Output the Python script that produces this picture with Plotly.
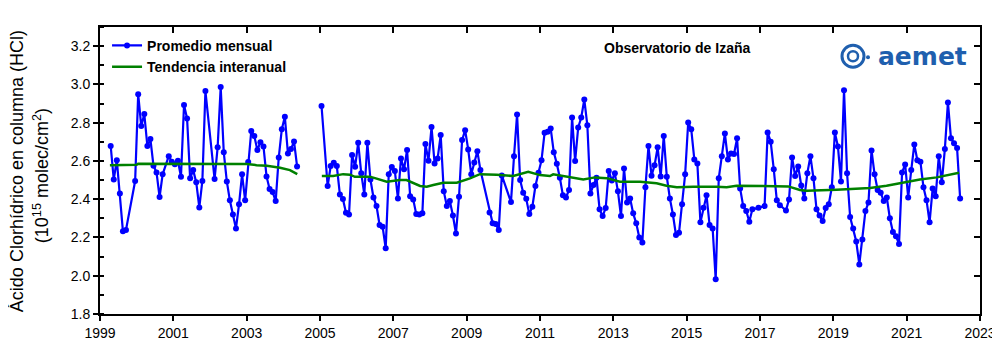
import plotly.graph_objects as go

# ---------------- data ----------------
# Monthly mean HCl total column (10^15 molec/cm2), Izaña
seg1_start = (1999, 4)
seg1_values = [2.678, 2.503, 2.604, 2.430, 2.233, 2.239, None, None, 2.495, 2.949,
               2.782, 2.845, 2.678, 2.714, 2.575, 2.540, 2.411, 2.530, None, 2.625,
               2.596, 2.583, 2.601, 2.517, 2.892, 2.822, 2.509, 2.552, 2.488, 2.357,
               2.495, 2.965, None, None, 2.505, 2.671, 2.986, 2.646, 2.493, 2.394,
               2.320, 2.247, 2.373, 2.530, 2.394, 2.594, 2.756, 2.730, 2.657, 2.698,
               2.676, 2.519, 2.453, 2.437, 2.390, 2.618, 2.766, 2.831, 2.639, 2.662,
               2.702, 2.571]

seg2_start = (2005, 1)
seg2_values = [
    2.887, None, 2.469, 2.573, 2.590, 2.573, 2.425, 2.401, 2.329, 2.320, 2.631, 2.570,
    2.695, 2.535, 2.425, 2.695, 2.503, 2.409, 2.364, 2.265, 2.256, 2.143, 2.531, 2.568,
    2.547, 2.404, 2.613, 2.556, 2.657, 2.416, 2.399, 2.322, 2.320, 2.326, 2.688, 2.601,
    2.777, 2.587, 2.613, 2.735, 2.442, 2.364, 2.390, 2.315, 2.221, 2.413, 2.709, 2.761,
    2.660, 2.530, 2.592, 2.651, 2.552, None, None, 2.331, 2.274, 2.270, 2.239, 2.524,
    None, None, 2.385, 2.625, 2.843, 2.500, 2.434, 2.402, 2.322, 2.361, 2.469, 2.538,
    2.604, 2.747, 2.752, 2.770, 2.646, 2.585, 2.512, 2.420, 2.409, 2.448, 2.827, 2.599,
    2.775, 2.827, 2.921, 2.786, 2.430, 2.474, 2.512, 2.347, 2.312, 2.354, 2.547, 2.498,
    2.535, 2.441, 2.312, 2.561, 2.383, 2.404, 2.326, 2.274, 2.200, 2.174, 2.462, 2.678,
    2.523, 2.578, 2.671, 2.519, 2.730, 2.517, 2.404, 2.320, 2.213, 2.225, 2.374, 2.530,
    2.801, 2.765, 2.608, 2.587, 2.279, 2.355, 2.420, 2.265, 2.247, 1.981, 2.509, 2.625,
    2.744, 2.608, 2.639, 2.636, 2.718, 2.456, 2.364, 2.338, 2.282, 2.347, None, 2.355,
    None, 2.364, 2.749, 2.700, 2.557, 2.394, 2.369, None, 2.341, 2.399, 2.618, 2.521,
    2.571, 2.472, 2.404, 2.536, 2.625, 2.509, 2.347, 2.315, 2.286, 2.354, 2.374, 2.462,
    2.749, 2.676, 2.493, 2.970, 2.535, 2.307, 2.247, 2.179, 2.059, 2.190, 2.338, 2.383,
    2.655, 2.530, 2.448, 2.434, 2.390, 2.409, 2.300, 2.228, 2.207, 2.166, 2.540, 2.582,
    2.409, 2.552, 2.686, 2.604, 2.596, 2.462, 2.395, 2.279, 2.456, 2.415, 2.624, 2.488,
    2.662, 2.906, 2.718, 2.693, 2.667, 2.404]

# Inter-annual trend (decimal year, value)
trend1_years = [1999.27, 2000.00, 2000.04, 2001.73, 2003.00, 2003.27, 2003.55, 2003.91, 2004.18, 2004.38]
trend1_values = [2.578, 2.580, 2.585, 2.585, 2.584, 2.578, 2.575, 2.564, 2.552, 2.531]
trend2_years = [2005.05, 2005.36, 2005.63, 2005.82, 2005.95, 2006.36, 2006.50, 2006.82, 2007.18, 2007.36,
                2007.73, 2007.91, 2008.09, 2008.36, 2008.73, 2009.09, 2009.36, 2009.82, 2010.27, 2010.45,
                2010.68, 2011.00, 2011.27, 2011.36, 2011.68, 2011.91, 2012.18, 2012.50, 2012.82, 2013.18,
                2013.73, 2014.18, 2014.45, 2014.73, 2015.18, 2015.82, 2016.09, 2016.36, 2016.82, 2017.36,
                2017.77, 2018.09, 2018.27, 2019.09, 2020.00, 2020.45, 2020.91, 2021.36, 2021.82, 2022.09,
                2022.43]
trend2_values = [2.521, 2.521, 2.531, 2.528, 2.517, 2.517, 2.510, 2.491, 2.500, 2.500,
                 2.469, 2.465, 2.474, 2.486, 2.486, 2.509, 2.531, 2.528, 2.521, 2.531,
                 2.543, 2.526, 2.521, 2.530, 2.521, 2.512, 2.503, 2.514, 2.510, 2.491,
                 2.491, 2.483, 2.470, 2.462, 2.465, 2.465, 2.462, 2.470, 2.468, 2.468,
                 2.467, 2.448, 2.444, 2.450, 2.458, 2.470, 2.486, 2.503, 2.514, 2.524,
                 2.538]

x_ticks = list(range(1999, 2024, 2))
y_ticks = [1.8, 2.0, 2.2, 2.4, 2.6, 2.8, 3.0, 3.2]


def build(start, vals):
    y0, m0 = start
    xs, ys = [], []
    for i, v in enumerate(vals):
        if v is None:
            continue
        tot = (m0 - 1) + i
        xs.append(y0 + tot // 12 + (tot % 12 + 0.5) / 12.0)
        ys.append(v)
    return xs, ys


x1, v1 = build(seg1_start, seg1_values)
x2, v2 = build(seg2_start, seg2_values)
mx = x1 + [None] + x2
my = v1 + [None] + v2
tx = trend1_years + [None] + trend2_years
ty = trend1_values + [None] + trend2_values

FONT = "Liberation Sans, Arial, sans-serif"
BLUE = "#0000ff"
GREEN = "#008000"

fig = go.Figure()
fig.add_trace(go.Scatter(x=mx, y=my, mode="lines+markers", name="Promedio mensual",
                         line=dict(color=BLUE, width=2.2),
                         marker=dict(color=BLUE, size=6, symbol="circle"),
                         connectgaps=False))
fig.add_trace(go.Scatter(x=tx, y=ty, mode="lines", name="Tendencia interanual",
                         line=dict(color=GREEN, width=2.5), connectgaps=False))
# helper trace so the mirrored (top/right) axes are drawn
fig.add_trace(go.Scatter(x=[None], y=[None], xaxis="x2", yaxis="y2", showlegend=False,
                         hoverinfo="skip"))

axis_common = dict(showgrid=False, zeroline=False, linecolor="black",
                   tickcolor="black", tickwidth=2)

# the page body adds an 8px offset, so margins are compensated
fig.update_layout(
    width=1000, height=361,
    margin=dict(l=92, r=28, t=19, b=55),
    paper_bgcolor="white", plot_bgcolor="white",
    font=dict(family=FONT, size=14, color="black"),
    showlegend=True,
    legend=dict(x=0.008, y=0.99, xanchor="left", yanchor="top",
                bgcolor="rgba(0,0,0,0)", borderwidth=0,
                font=dict(family=FONT, size=14, color="black", weight="bold"),
                itemwidth=30, tracegroupgap=0),
    xaxis=dict(range=[1999, 2023], tickmode="array", tickvals=x_ticks,
               ticks="outside", ticklen=5, showline=True, mirror=True, linewidth=2,
               tickfont=dict(size=14, family=FONT), **axis_common),
    yaxis=dict(range=[1.8, 3.3], tickmode="array", tickvals=y_ticks,
               ticktext=[f"{v:.1f}" for v in y_ticks],
               ticks="outside", ticklen=5, showline=True, mirror=True, linewidth=2,
               minor=dict(ticks="inside", tick0=1.8, dtick=0.1, ticklen=4,
                          tickwidth=1.5, tickcolor="black", showgrid=False),
               tickfont=dict(size=14, family=FONT), **axis_common),
    xaxis2=dict(overlaying="x", side="top", range=[1999, 2023], tickmode="array",
                tickvals=x_ticks, ticks="inside", ticklen=6, showticklabels=False,
                showline=False, anchor="y", **axis_common),
    yaxis2=dict(overlaying="y", side="right", range=[1.8, 3.3], tickmode="array",
                tickvals=y_ticks, ticks="inside", ticklen=6, showticklabels=False,
                showline=False, anchor="x", **axis_common),
)


def px(xp):
    return (xp - 100) / 880.0


def py(yp):
    return (314 - yp) / 287.3


# y-axis title (two lines)
fig.add_annotation(xref="paper", yref="paper", x=px(17), y=py(171), xanchor="center", yanchor="middle",
                   textangle=-90, showarrow=False,
                   text="Ácido Clorhídrico en columna (HCl)",
                   font=dict(family=FONT, size=18, color="black"))
fig.add_annotation(xref="paper", yref="paper", x=px(41), y=py(176), xanchor="center", yanchor="middle",
                   textangle=-90, showarrow=False,
                   text="(10<sup>15</sup> molec/cm<sup>2</sup>)",
                   font=dict(family=FONT, size=18, color="black"))

# station label
fig.add_annotation(xref="paper", yref="paper", x=px(677), y=py(48), xanchor="center", yanchor="middle",
                   showarrow=False, text="Observatorio de Izaña",
                   font=dict(family=FONT, size=14, color="black", weight="bold"))

# AEMET logo (text + simple emblem)
LOGO = "#1f5fae"
fig.add_annotation(xref="paper", yref="paper", x=px(922), y=py(56), xanchor="center", yanchor="middle",
                   showarrow=False, text="aemet",
                   font=dict(family="DejaVu Sans, sans-serif", size=25, color=LOGO, weight="bold"))

fig.add_shape(type="circle", xref="paper", yref="paper",
              x0=px(842), x1=px(864), y0=py(67), y1=py(45),
              line=dict(color=LOGO, width=3))
fig.add_shape(type="circle", xref="paper", yref="paper",
              x0=px(848), x1=px(858), y0=py(61), y1=py(51),
              line=dict(color=LOGO, width=2.5))
fig.add_shape(type="circle", xref="paper", yref="paper",
              x0=px(866), x1=px(870), y0=py(59), y1=py(55),
              fillcolor=LOGO, line=dict(color=LOGO, width=0))

fig.write_html("out.html")
